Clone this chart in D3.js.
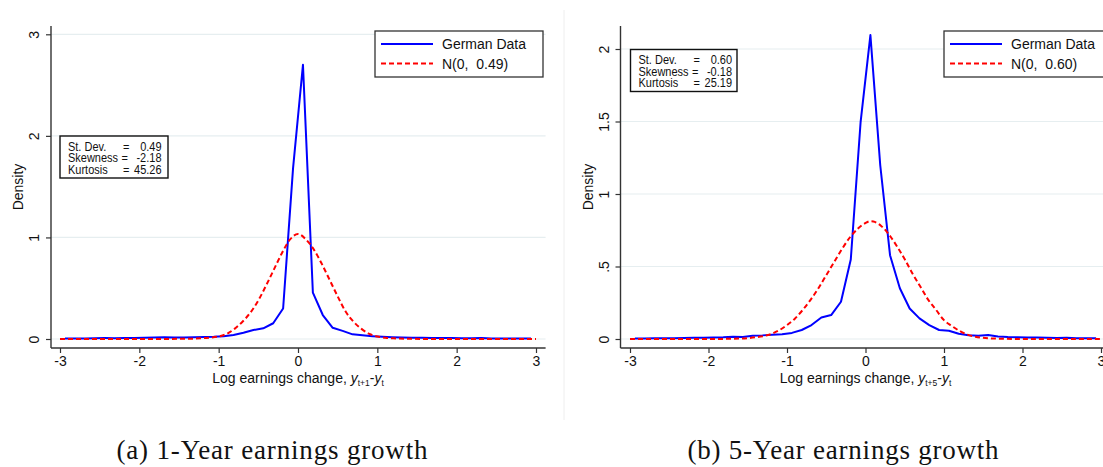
<!DOCTYPE html>
<html><head><meta charset="utf-8">
<script src="https://cdn.jsdelivr.net/npm/d3@7"></script>
<style>body{margin:0;background:#fff;} svg{display:block;font-family:"Liberation Sans",Arial,sans-serif;}</style>
</head><body>
<svg id="c" width="1103" height="467"></svg>
<script>
// ---- data ----
const binX = [-2.9375,-2.8125,-2.6875,-2.5625,-2.4375,-2.3125,-2.1875,-2.0625,-1.9375,-1.8125,-1.6875,-1.5625,-1.4375,-1.3125,-1.1875,-1.0625,-0.9375,-0.8125,-0.6875,-0.5625,-0.4375,-0.3125,-0.1875,-0.0625,0.0625,0.1875,0.3125,0.4375,0.5625,0.6875,0.8125,0.9375,1.0625,1.1875,1.3125,1.4375,1.5625,1.6875,1.8125,1.9375,2.0625,2.1875,2.3125,2.4375,2.5625,2.6875,2.8125,2.9375];
const german1Y = [0.004,0.005,0.006,0.008,0.009,0.008,0.009,0.010,0.012,0.014,0.017,0.014,0.015,0.017,0.019,0.021,0.026,0.040,0.062,0.088,0.105,0.155,0.30,1.68,2.70,0.456,0.236,0.11,0.08,0.046,0.036,0.028,0.022,0.018,0.015,0.013,0.012,0.011,0.010,0.009,0.008,0.007,0.009,0.006,0.006,0.005,0.004,0.004];
const german5Y = [0.003,0.004,0.005,0.006,0.006,0.007,0.008,0.009,0.010,0.012,0.016,0.013,0.022,0.025,0.030,0.033,0.042,0.062,0.096,0.148,0.165,0.257,0.548,1.495,2.096,1.20,0.578,0.35,0.21,0.142,0.096,0.062,0.057,0.036,0.026,0.022,0.027,0.018,0.014,0.012,0.011,0.010,0.008,0.007,0.008,0.006,0.006,0.006];
const normal1X = [-3,-2,-1.4,-1.2,-1.1,-1.0,-0.9,-0.8,-0.7,-0.6,-0.5,-0.4,-0.3,-0.2,-0.1,0,0.1,0.2,0.3,0.4,0.5,0.6,0.7,0.8,0.9,1.0,1.1,1.2,1.4,2,3];
const normal1Y = [0,0,0.002,0.008,0.014,0.025,0.05,0.10,0.17,0.26,0.38,0.53,0.69,0.85,0.98,1.034,0.98,0.88,0.74,0.58,0.42,0.27,0.17,0.10,0.05,0.025,0.012,0.007,0.002,0,0];
const normal5X = [-3,-2,-1.6,-1.4,-1.2,-1.1,-1.0,-0.9,-0.8,-0.7,-0.6,-0.5,-0.4,-0.3,-0.2,-0.1,0,0.06,0.1,0.2,0.3,0.4,0.5,0.6,0.7,0.8,0.9,1.0,1.1,1.2,1.3,1.4,1.6,2,3];
const normal5Y = [0,0,0.003,0.012,0.035,0.06,0.096,0.14,0.2,0.27,0.35,0.44,0.53,0.62,0.70,0.76,0.80,0.812,0.81,0.78,0.72,0.64,0.55,0.45,0.36,0.27,0.2,0.13,0.09,0.055,0.03,0.016,0.004,0,0];
const xTicks = [-3,-2,-1,0,1,2,3];
const yTicks1 = [0,1,2,3];
const yTickLabels1 = ["0","1","2","3"];
const yTicks5 = [0,0.5,1,1.5,2];
const yTickLabels5 = ["0",".5","1","1.5","2"];
const legendLabels1 = ["German Data","N(0,  0.49)"];
const legendLabels5 = ["German Data","N(0,  0.60)"];
const statLabels = ["St. Dev.","Skewness","Kurtosis"];
const stats1 = ["0.49","-2.18","45.26"];
const stats5 = ["0.60","-0.18","25.19"];
const captions = ["(a) 1-Year earnings growth","(b) 5-Year earnings growth"];
const subscripts = ["t+1","t+5"];

const svg = d3.select("#c");
const AX = "#333";
svg.append("line").attr("x1",564).attr("x2",564).attr("y1",10).attr("y2",420).attr("stroke","#eeeeee").attr("stroke-width",1);

function panel(cfg){
  const g = svg.append("g");
  const x = d3.scaleLinear().domain([-3,3]).range(cfg.xRange);
  const y = d3.scaleLinear().domain([0,cfg.yMax]).range([339,cfg.yTopPx]);
  // gridlines
  g.selectAll(".grid").data(cfg.yTicks).join("line")
    .attr("x1",cfg.axisX).attr("x2",cfg.plotRight)
    .attr("y1",d=>y(d)).attr("y2",d=>y(d))
    .attr("stroke","#e6eef0").attr("stroke-width",1.2);
  // curves
  const line = d3.line().x(d=>x(d[0])).y(d=>y(d[1]));
  g.append("path").datum(d3.zip(binX,cfg.dataY)).attr("d",line)
    .attr("fill","none").attr("stroke","#0000ff").attr("stroke-width",2).attr("stroke-linejoin","round");
  g.append("path").datum(d3.zip(cfg.normX,cfg.normY)).attr("d",line.curve(d3.curveMonotoneX))
    .attr("fill","none").attr("stroke","#ff0000").attr("stroke-width",2).attr("stroke-dasharray","5,3");
  // x axis
  const xa = g.append("g").attr("transform","translate(0,348)")
    .call(d3.axisBottom(x).tickValues(xTicks).tickSize(5).tickSizeOuter(0).tickFormat(d3.format("d")));
  xa.select(".domain").remove();
  xa.selectAll("line").attr("stroke",AX).attr("stroke-width",1.2);
  xa.selectAll("text").attr("font-size",14).attr("fill","#111").attr("font-family","Liberation Sans, Arial").text(d=>d<0?"-"+(-d):String(d));
  g.append("line").attr("x1",cfg.axisX).attr("x2",cfg.plotRight).attr("y1",348).attr("y2",348).attr("stroke",AX).attr("stroke-width",1.4);
  // y axis
  const ya = g.append("g").attr("transform",`translate(${cfg.axisX},0)`)
    .call(d3.axisLeft(y).tickValues(cfg.yTicks).tickSize(5).tickFormat((d,i)=>cfg.yLabels[i]));
  ya.select(".domain").remove();
  ya.selectAll("line").attr("stroke",AX).attr("stroke-width",1.2);
  ya.selectAll("text").attr("font-size",14).attr("fill","#111").attr("font-family","Liberation Sans, Arial")
    .attr("x",null).attr("dy",null).attr("text-anchor","middle").attr("transform","translate(-12,0) rotate(-90)");
  g.append("line").attr("x1",cfg.axisX).attr("x2",cfg.axisX).attr("y1",26).attr("y2",348).attr("stroke",AX).attr("stroke-width",1.4);
  // axis titles
  g.append("text").attr("transform",`translate(${cfg.axisX-28},187) rotate(-90)`).attr("text-anchor","middle")
    .attr("font-size",14).attr("fill","#111").text("Density");
  const xt = g.append("text").attr("x",x(0)).attr("y",383).attr("text-anchor","middle").attr("font-size",14).attr("fill","#111");
  xt.append("tspan").text("Log earnings change, ");
  xt.append("tspan").attr("font-style","italic").text("y");
  xt.append("tspan").attr("font-size",8.5).attr("dy",3).text(cfg.sub);
  xt.append("tspan").attr("dy",-3).text("-");
  xt.append("tspan").attr("font-style","italic").text("y");
  xt.append("tspan").attr("font-size",8.5).attr("dy",3).text("t");
  // stats box
  const sb = g.append("g").attr("transform",`translate(${cfg.statX},${cfg.statY})`);
  sb.append("rect").attr("width",cfg.statW).attr("height",42).attr("fill","#fff").attr("stroke","#111").attr("stroke-width",1.4);
  statLabels.forEach((lab,i)=>{
    const by = 14.5 + i*11.5;
    const st = (xx,anchor,txt)=> sb.append("text").attr("transform",`translate(${xx},${by}) scale(1,1.12)`)
      .attr("text-anchor",anchor).attr("font-size",11).attr("fill","#111").text(txt);
    st(8,"start",lab);
    st(i===1?61.5:63,"start","=");
    st(101.5,"end",cfg.stats[i]);
  });
  // legend
  const lg = g.append("g").attr("transform",`translate(${cfg.legX},31)`);
  lg.append("rect").attr("width",168).attr("height",46).attr("fill","#fff").attr("stroke","#333").attr("stroke-width",1.3);
  lg.append("line").attr("x1",6).attr("x2",58).attr("y1",13).attr("y2",13).attr("stroke","#0000ff").attr("stroke-width",2);
  lg.append("line").attr("x1",6).attr("x2",58).attr("y1",32.5).attr("y2",32.5).attr("stroke","#ff0000").attr("stroke-width",2).attr("stroke-dasharray","5,3");
  cfg.legend.forEach((t,i)=>{
    lg.append("text").attr("x",67).attr("y",(i?32.5:13)+5).attr("font-size",14).attr("fill","#111")
      .attr("xml:space","preserve").style("white-space","pre").text(t);
  });
  // caption
  svg.append("text").attr("x",cfg.capX).attr("y",459).attr("text-anchor","middle")
    .attr("font-family","Liberation Serif, Times New Roman, serif").attr("font-size",27)
    .attr("textLength",311).attr("lengthAdjust","spacing").attr("fill","#111").text(cfg.caption);
}

panel({axisX:51, plotRight:545.6, xRange:[60,536], yMax:3, yTopPx:34.3, yTicks:yTicks1, yLabels:yTickLabels1,
  dataY:german1Y, normX:normal1X, normY:normal1Y, sub:subscripts[0], statX:60, statY:136, statW:108, stats:stats1,
  legX:375, legend:legendLabels1, capX:272, caption:captions[0]});
panel({axisX:620.5, plotRight:1115, xRange:[630,1101], yMax:2, yTopPx:49, yTicks:yTicks5, yLabels:yTickLabels5,
  dataY:german5Y, normX:normal5X, normY:normal5Y, sub:subscripts[1], statX:630.5, statY:49.5, statW:106.5, stats:stats5,
  legX:944, legend:legendLabels5, capX:843, caption:captions[1]});
</script>
</body></html>
